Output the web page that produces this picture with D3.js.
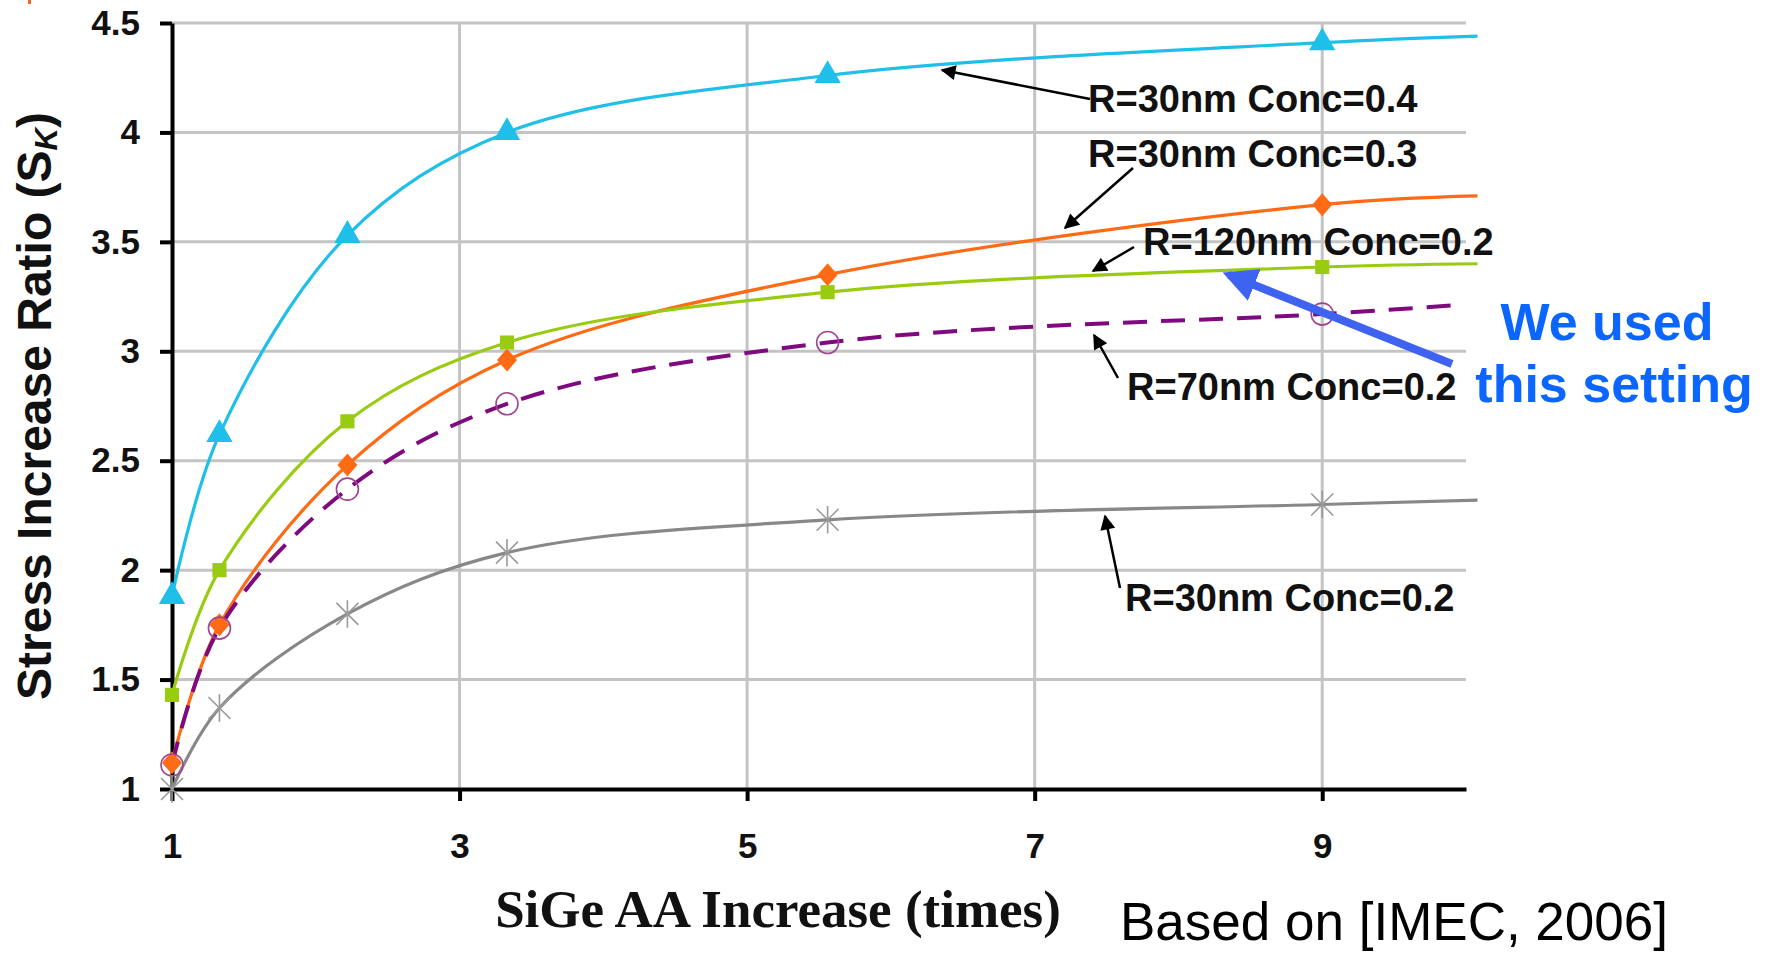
<!DOCTYPE html>
<html>
<head>
<meta charset="utf-8">
<script src="https://cdn.jsdelivr.net/npm/d3@7"></script>
<style>
  html, body { margin: 0; padding: 0; background: #fff; }
  svg { display: block; }
</style>
</head>
<body>
<svg id="chart" width="1768" height="954" font-family="'Liberation Sans', Arial, sans-serif"></svg>
<script>
// ---------- data ----------
const xValues   = [1, 1.33, 2.22, 3.33, 5.56, 9];      // marker positions (SiGe AA increase)
const xTicks    = [1, 3, 5, 7, 9];
const yTicks    = [1, 1.5, 2, 2.5, 3, 3.5, 4, 4.5];
const vGrid     = [3, 5, 7, 9];

const conc04_R30  = [1.88, 2.62, 3.53, 4.00, 4.26, 4.41];  // cyan, triangles
const conc03_R30  = [1.12, 1.75, 2.48, 2.96, 3.35, 3.67];  // orange, diamonds
const conc02_R120 = [1.43, 2.00, 2.68, 3.04, 3.27, 3.385]; // green, squares
const conc02_R70  = [1.11, 1.735, 2.37, 2.76, 3.04, 3.17]; // purple dashed, circles
const conc02_R30  = [1.00, 1.37, 1.80, 2.08, 2.23, 2.30];  // gray, asterisks

// line end values (line continues past last marker)
const endX      = [10.08, 10.08, 10.08, 9.92, 10.08];
const endValues = [4.44, 3.71, 3.40, 3.21, 2.32];

const seriesNames = ["R=30nm Conc=0.4", "R=30nm Conc=0.3", "R=120nm Conc=0.2", "R=70nm Conc=0.2", "R=30nm Conc=0.2"];

// ---------- layout ----------
const SANS = "'Liberation Sans', Arial, sans-serif";
const SERIF = "'Liberation Serif', 'Times New Roman', serif";
const svg = d3.select("#chart");
const x = d3.scaleLinear().domain([1, 10]).range([172, 1466]);
const y = d3.scaleLinear().domain([1, 4.5]).range([789, 23]);

const series = [
  {vals: conc04_R30,  color: "#1fbfe9", marker: "triangle", dash: null},
  {vals: conc03_R30,  color: "#ff6a14", marker: "diamond",  dash: null},
  {vals: conc02_R120, color: "#99cc11", marker: "square",   dash: null},
  {vals: conc02_R70,  color: "#7f0a80", marker: "circle",   dash: "24,14"},
  {vals: conc02_R30,  color: "#888888", marker: "star",     dash: null}
];

// small orange mark top-left
svg.append("rect").attr("x", 28).attr("y", 0).attr("width", 3).attr("height", 4).attr("fill", "#f26522");

// gridlines
svg.append("g").selectAll("line").data(yTicks.filter(d => d > 1)).join("line")
  .attr("x1", x(1)).attr("x2", x(10)).attr("y1", d => y(d)).attr("y2", d => y(d))
  .attr("stroke", "#c4c4c4").attr("stroke-width", 3);
svg.append("g").selectAll("line").data(vGrid).join("line")
  .attr("x1", d => x(d)).attr("x2", d => x(d)).attr("y1", y(4.5)).attr("y2", y(1))
  .attr("stroke", "#c4c4c4").attr("stroke-width", 3);

// axes
const yAxis = svg.append("g").attr("transform", `translate(${x(1)},0)`)
  .call(d3.axisLeft(y).tickValues(yTicks).tickSize(12).tickSizeOuter(0).tickPadding(20).tickFormat(d => String(d)));
const xAxis = svg.append("g").attr("transform", `translate(0,${y(1)})`)
  .call(d3.axisBottom(x).tickValues(xTicks).tickSize(12).tickSizeOuter(0).tickPadding(32).tickFormat(d => String(d)));
[yAxis, xAxis].forEach(a => {
  a.select(".domain").attr("stroke", "#000").attr("stroke-width", 4);
  a.selectAll(".tick line").attr("stroke", "#000").attr("stroke-width", 4);
  a.selectAll(".tick text").attr("fill", "#111").attr("font-size", 35).attr("font-weight", "bold")
    .attr("font-family", SANS);
});

// lines
const line = d3.line().x(d => x(d[0])).y(d => y(d[1])).curve(d3.curveCatmullRom.alpha(0.5));
const plot = svg.append("g");
series.forEach((s, i) => {
  const pts = xValues.map((xv, j) => [xv, s.vals[j]]).concat([[endX[i], endValues[i]]]);
  plot.append("path").datum(pts).attr("d", line)
    .attr("fill", "none").attr("stroke", s.color).attr("stroke-width", s.dash ? 4 : 3.2)
    .attr("stroke-dasharray", s.dash);
});

// markers
series.forEach(s => {
  const g = plot.append("g");
  xValues.forEach((xv, j) => {
    const cx = x(xv), cy = y(s.vals[j]);
    if (s.marker === "triangle") {
      g.append("path").attr("d", d3.symbol(d3.symbolTriangle, 300)()).attr("transform", `translate(${cx},${cy})`).attr("fill", s.color);
    } else if (s.marker === "square") {
      g.append("path").attr("d", d3.symbol(d3.symbolSquare, 200)()).attr("transform", `translate(${cx},${cy})`).attr("fill", s.color);
    } else if (s.marker === "diamond") {
      const w = 10, h = 11.5;
      g.append("path").attr("d", `M${cx},${cy - h}L${cx + w},${cy}L${cx},${cy + h}L${cx - w},${cy}Z`).attr("fill", s.color);
    } else if (s.marker === "circle") {
      g.append("circle").attr("cx", cx).attr("cy", cy).attr("r", 11).attr("fill", "none").attr("stroke", "#a0458f").attr("stroke-width", 1.6);
    } else if (s.marker === "star") {
      const r = 11;
      g.append("path").attr("d", `M${cx - r},${cy - r}L${cx + r},${cy + r}M${cx - r},${cy + r}L${cx + r},${cy - r}M${cx},${cy - r * 1.25}L${cx},${cy + r * 1.25}`)
        .attr("stroke", "#9a9a9a").attr("stroke-width", 1.6).attr("fill", "none");
    }
  });
});

// arrow markers
const defs = svg.append("defs");
defs.append("marker").attr("id", "ah").attr("viewBox", "0 0 10 10").attr("refX", 9).attr("refY", 5)
  .attr("markerWidth", 17).attr("markerHeight", 15).attr("markerUnits", "userSpaceOnUse").attr("orient", "auto")
  .append("path").attr("d", "M0,0L10,5L0,10Z").attr("fill", "#000");
defs.append("marker").attr("id", "ahb").attr("viewBox", "0 0 10 10").attr("refX", 8).attr("refY", 5)
  .attr("markerWidth", 34).attr("markerHeight", 34).attr("markerUnits", "userSpaceOnUse").attr("orient", "auto")
  .append("path").attr("d", "M0,0L10,5L0,10Z").attr("fill", "#3d63f0");

// annotations (label text, baseline position, arrow tail, arrow tip)
const annotations = [
  {text: seriesNames[0], tx: 1088, ty: 112, x1: 1090, y1: 99,  x2: 942,  y2: 70},
  {text: seriesNames[1], tx: 1088, ty: 167, x1: 1133, y1: 168, x2: 1065, y2: 228},
  {text: seriesNames[2], tx: 1143, ty: 255, x1: 1134, y1: 247, x2: 1093, y2: 271},
  {text: seriesNames[3], tx: 1127, ty: 400, x1: 1118, y1: 378, x2: 1094, y2: 335},
  {text: seriesNames[4], tx: 1125, ty: 611, x1: 1120, y1: 588, x2: 1105, y2: 516}
];
const ann = svg.append("g");
annotations.forEach(a => {
  ann.append("line").attr("x1", a.x1).attr("y1", a.y1).attr("x2", a.x2).attr("y2", a.y2)
    .attr("stroke", "#000").attr("stroke-width", 2.5).attr("marker-end", "url(#ah)");
  ann.append("text").attr("x", a.tx).attr("y", a.ty).text(a.text)
    .attr("font-size", 38).attr("font-weight", "bold").attr("fill", "#111");
});

// blue callout
svg.append("line").attr("x1", 1452).attr("y1", 364).attr("x2", 1229).attr("y2", 275)
  .attr("stroke", "#3d63f0").attr("stroke-width", 8).attr("marker-end", "url(#ahb)");
svg.append("text").attr("x", 1607).attr("y", 340).attr("text-anchor", "middle").text("We used")
  .attr("font-size", 52).attr("font-weight", "bold").attr("fill", "#0a66ff");
svg.append("text").attr("x", 1614).attr("y", 402).attr("text-anchor", "middle").text("this setting")
  .attr("font-size", 52).attr("font-weight", "bold").attr("fill", "#0a66ff");

// axis titles
svg.append("text").attr("x", 778).attr("y", 927).attr("text-anchor", "middle").text("SiGe AA Increase (times)")
  .attr("font-family", SERIF).attr("font-size", 53).attr("font-weight", "bold").attr("fill", "#111");

const yt = svg.append("text").attr("transform", "translate(51,406) rotate(-90)").attr("text-anchor", "middle")
  .attr("font-size", 48).attr("font-weight", "bold").attr("fill", "#111");
yt.append("tspan").text("Stress Increase Ratio (S");
yt.append("tspan").text("K").attr("font-size", 31).attr("font-style", "italic").attr("dy", 6);
yt.append("tspan").text(")").attr("dy", -6);

// source note
svg.append("text").attr("x", 1120).attr("y", 940).text("Based on [IMEC, 2006]")
  .attr("font-size", 53).attr("fill", "#000");
</script>
</body>
</html>
